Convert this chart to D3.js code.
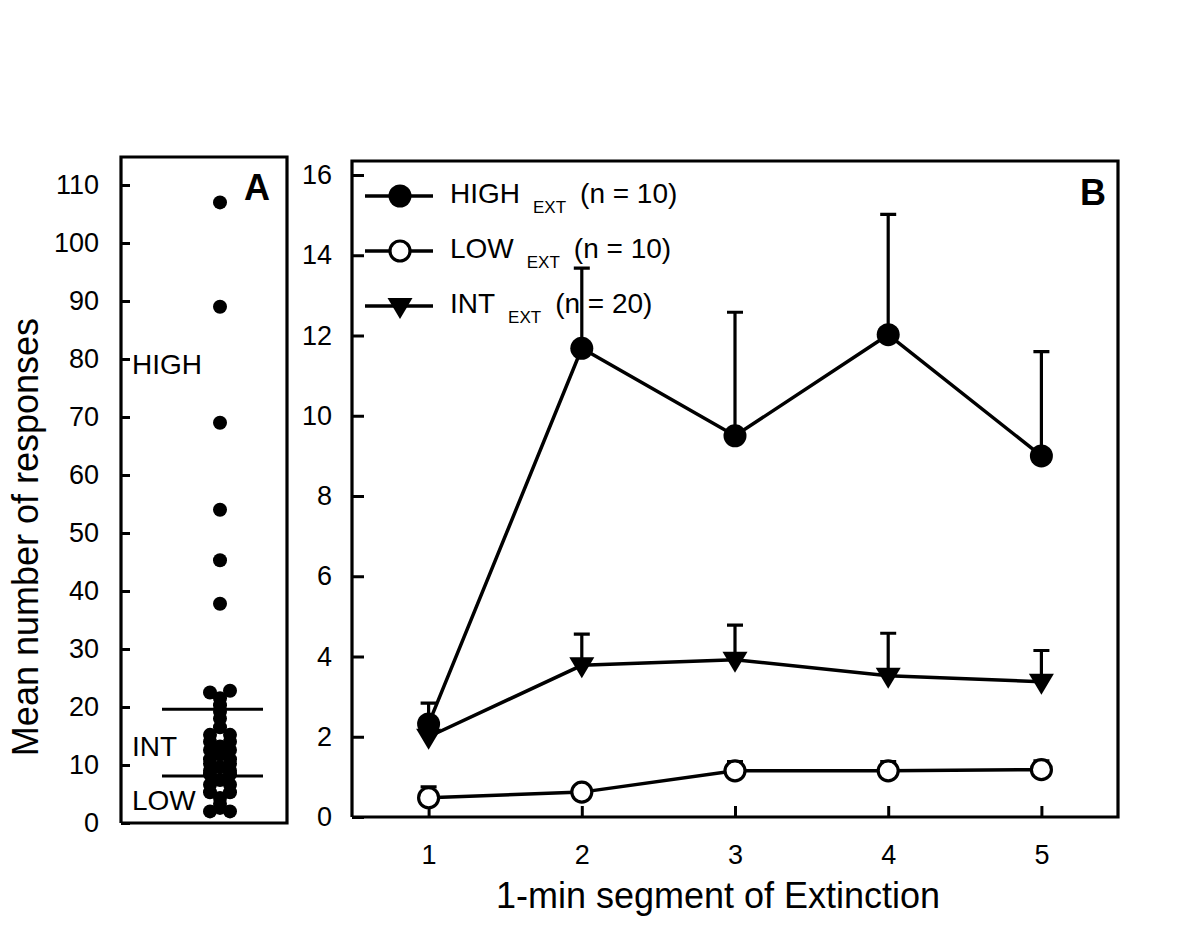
<!DOCTYPE html>
<html>
<head>
<meta charset="utf-8">
<script src="https://cdn.jsdelivr.net/npm/d3@7"></script>
<style>
  body { margin: 0; background: #fff; }
  text { font-family: "Liberation Sans", Arial, sans-serif; fill: #000; }
</style>
</head>
<body>
<svg width="1200" height="933"></svg>
<script>
// ---- panel A: responses of each subject (n = 40)
var aValues = [107, 89, 69, 54, 45.3, 37.8, 22.5, 22.8, 21.5, 20.3,
               19.2, 18, 16.5, 15.2, 15.2, 14, 14, 13.2, 12.6, 12.6,
               11.8, 11, 11, 10.2, 10.2, 9.6, 9, 9, 8.4, 8.4,
               7.4, 6.6, 6.6, 5.3, 5.3, 4.3, 3.3, 2.6, 2.0, 2.0];
// which column of the dot stack: -1 left, 0 middle, 1 right
var aColumn = [0, 0, 0, 0, 0, 0, -1, 1, 0, 0,
               0, 0, 0, -1, 1, -1, 1, 0, -1, 1,
               0, -1, 1, -1, 1, 0, -1, 1, -1, 1,
               0, -1, 1, -1, 1, 0, 0, 0, -1, 1];
var aCuts = [19.6, 8.1];
var aGroups = ["HIGH", "INT", "LOW"];
var aGroupAt = [77.5, 11.5, 2.2];
var aTicks = d3.range(0, 111, 10);

// ---- panel B: mean responses per 1-min segment of extinction
var segments = [1, 2, 3, 4, 5];
var highMean = [2.32, 11.68, 9.5, 12.02, 9.0];
var highTop  = [2.84, 13.68, 12.58, 15.02, 11.6];
var lowMean  = [0.48, 0.62, 1.15, 1.15, 1.18];
var lowTop   = [0.75, 0.72, 1.38, 1.38, 1.4];
var intMean  = [2.0, 3.78, 3.92, 3.52, 3.37];
var intTop   = [2.3, 4.56, 4.78, 4.58, 4.15];
var bTicks = d3.range(0, 17, 2);
var legendNames = ["HIGH", "LOW", "INT"];
var legendN = ["(n = 10)", "(n = 10)", "(n = 20)"];

var svg = d3.select("svg");

function styleAxis(g) {
  g.select(".domain").remove();
  g.selectAll("line").attr("stroke", "#000").attr("stroke-width", 3);
  g.selectAll("text").attr("font-size", 27).attr("font-family", "Liberation Sans, Arial, sans-serif");
}

// ================= panel A
var yA = d3.scaleLinear().domain([0, 110]).range([823, 185]);
var xJit = d3.scaleLinear().domain([-1, 1]).range([210, 230]);
var aLeft = 121, aRight = 287, aTop = 157;

var gA = svg.append("g");

gA.append("g")
    .attr("transform", "translate(" + aLeft + ",0)")
    .call(d3.axisLeft(yA).tickValues(aTicks).tickSizeInner(-9).tickSizeOuter(0).tickPadding(22))
    .call(styleAxis);

gA.append("path")
    .attr("d", "M" + aLeft + "," + yA(0) + "V" + aTop + "H" + aRight + "V" + yA(0) + "H" + aLeft)
    .attr("fill", "none").attr("stroke", "#000").attr("stroke-width", 3.2);

gA.selectAll(".cut")
  .data(aCuts)
  .enter().append("line")
    .attr("x1", 162).attr("x2", 263)
    .attr("y1", function(d) { return yA(d); })
    .attr("y2", function(d) { return yA(d); })
    .attr("stroke", "#000").attr("stroke-width", 3);

gA.selectAll(".subj")
  .data(aValues)
  .enter().append("circle")
    .attr("cx", function(d, i) { return xJit(aColumn[i]); })
    .attr("cy", function(d) { return yA(d); })
    .attr("r", 7)
    .attr("fill", "#000");

gA.selectAll(".grp")
  .data(aGroups)
  .enter().append("text")
    .attr("x", 132)
    .attr("y", function(d, i) { return yA(aGroupAt[i]); })
    .attr("font-size", 28)
    .text(function(d) { return d; });

gA.append("text")
    .attr("x", 270).attr("y", 200)
    .attr("text-anchor", "end")
    .attr("font-size", 36).attr("font-weight", "bold")
    .text("A");

// y title
svg.append("text")
    .attr("transform", "translate(38,537) rotate(-90)")
    .attr("text-anchor", "middle")
    .attr("font-size", 36)
    .text("Mean number of responses");

// ================= panel B
var xB = d3.scaleLinear().domain([0.5, 5.5]).range([352, 1118]);
var yB = d3.scaleLinear().domain([0, 16]).range([817, 175]);
var bTop = 161;

var gB = svg.append("g");

gB.append("g")
    .attr("transform", "translate(" + xB(0.5) + ",0)")
    .call(d3.axisLeft(yB).tickValues(bTicks).tickSizeInner(-12).tickSizeOuter(0).tickPadding(20))
    .call(styleAxis);

gB.append("g")
    .attr("transform", "translate(0," + yB(0) + ")")
    .call(d3.axisBottom(xB).tickValues(segments).tickFormat(d3.format("d"))
      .tickSizeInner(-11).tickSizeOuter(0).tickPadding(28))
    .call(styleAxis);

gB.append("path")
    .attr("d", "M" + xB(0.5) + "," + yB(0) + "V" + bTop + "H" + xB(5.5) + "V" + yB(0) + "H" + xB(0.5))
    .attr("fill", "none").attr("stroke", "#000").attr("stroke-width", 3.2);

var tri = "M-12.5,-8L12.5,-8L0,13Z";

function drawMarker(sel, kind) {
  if (kind === "HIGH") {
    sel.append("circle").attr("r", 11.5).attr("fill", "#000");
  } else if (kind === "LOW") {
    sel.append("circle").attr("r", 10).attr("fill", "#fff").attr("stroke", "#000").attr("stroke-width", 3.2);
  } else {
    sel.append("path").attr("d", tri).attr("fill", "#000");
  }
}

var line = d3.line()
    .x(function(d) { return xB(d[0]); })
    .y(function(d) { return yB(d[1]); });

var series = [
  {name: "INT", mean: intMean, top: intTop},
  {name: "LOW", mean: lowMean, top: lowTop},
  {name: "HIGH", mean: highMean, top: highTop}
];

series.forEach(function(s) {
  var pts = segments.map(function(x, i) { return [x, s.mean[i], s.top[i]]; });
  var g = gB.append("g");

  g.selectAll(".err")
    .data(pts)
    .enter().append("path")
      .attr("d", function(d) {
        var x = xB(d[0]), y0 = yB(d[1]), y1 = yB(d[2]);
        return "M" + x + "," + y0 + "V" + y1 + "M" + (x - 8) + "," + y1 + "H" + (x + 8);
      })
      .attr("fill", "none").attr("stroke", "#000").attr("stroke-width", 3.2);

  g.append("path")
      .datum(pts)
      .attr("d", line)
      .attr("fill", "none").attr("stroke", "#000").attr("stroke-width", 3.5);

  g.selectAll(".mk")
    .data(pts)
    .enter().append("g")
      .attr("transform", function(d) { return "translate(" + xB(d[0]) + "," + yB(d[1]) + ")"; })
      .each(function() { drawMarker(d3.select(this), s.name); });
});

// legend
var legend = gB.selectAll(".leg")
  .data(legendNames)
  .enter().append("g")
    .attr("transform", function(d, i) { return "translate(0," + (196 + i * 55) + ")"; });

legend.append("line")
    .attr("x1", 365).attr("x2", 433)
    .attr("stroke", "#000").attr("stroke-width", 3.5);

legend.each(function(d) {
  var m = d3.select(this).append("g").attr("transform", "translate(400,0)");
  drawMarker(m, d);
});

var lt = legend.append("text")
    .attr("x", 450).attr("y", 7)
    .attr("font-size", 28);
lt.append("tspan").text(function(d) { return d; });
lt.append("tspan").attr("dx", 13).attr("dy", 10).attr("font-size", 17).text("EXT");
lt.append("tspan").attr("dx", 14).attr("dy", -10).text(function(d, i) { return legendN[i]; });

gB.append("text")
    .attr("x", 1106).attr("y", 205)
    .attr("text-anchor", "end")
    .attr("font-size", 36).attr("font-weight", "bold")
    .text("B");

// x title
svg.append("text")
    .attr("x", 718).attr("y", 908)
    .attr("text-anchor", "middle")
    .attr("font-size", 36)
    .text("1-min segment of Extinction");
</script>
</body>
</html>
